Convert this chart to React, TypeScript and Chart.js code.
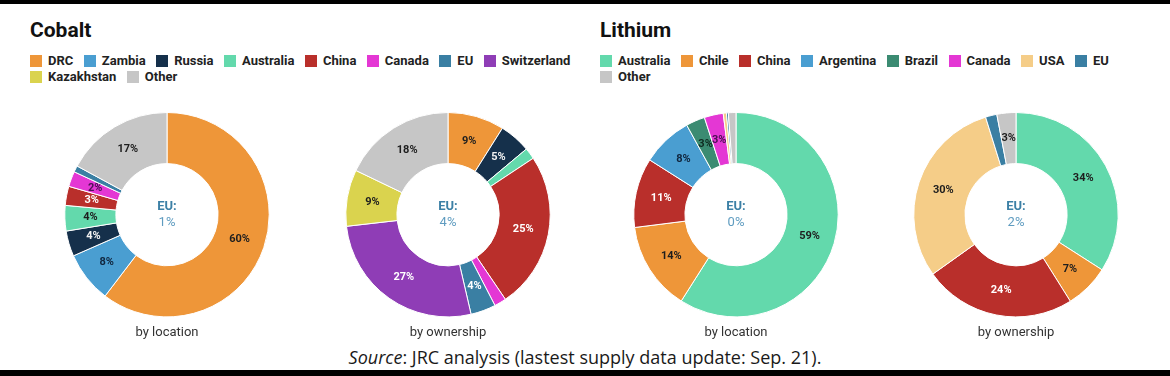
import React, { useEffect, useRef } from 'react';
import { Chart, registerables } from 'chart.js';

Chart.register(...registerables);

// ---------- data ----------
const cobaltCountries = ['DRC', 'Zambia', 'Russia', 'Australia', 'China', 'Canada', 'EU', 'Switzerland', 'Kazakhstan', 'Other'];
const cobaltLocation = [60, 8, 4, 4, 3, 2.4, 1, 0, 0, 17];
const cobaltOwnership = [9, 0, 5, 1.8, 25, 1.9, 4, 27, 9, 18];
const cobaltEUShare = ['1%', '4%'];

const lithiumCountries = ['Australia', 'Chile', 'China', 'Argentina', 'Brazil', 'Canada', 'USA', 'EU', 'Other'];
const lithiumLocation = [59, 14, 11, 8, 3, 3, 0.5, 0.3, 1.2];
const lithiumOwnership = [34, 7, 24, 0, 0, 0, 30, 1.8, 3];
const lithiumEUShare = ['0%', '2%'];

const subtitles = ['by location', 'by ownership'];

// ---------- styles ----------
const palette: Record<string, string> = {
  DRC: '#EE9639',
  Zambia: '#4A9ED1',
  Russia: '#15304B',
  Australia: '#63D9AC',
  China: '#B92F2B',
  Canada: '#E437D4',
  EU: '#3A7FA3',
  Switzerland: '#8F3DB6',
  Kazakhstan: '#DAD34E',
  Other: '#C6C6C6',
  Chile: '#EE9639',
  Argentina: '#4A9ED1',
  Brazil: '#3B8B72',
  USA: '#F5CD88',
};
const labelInk: Record<string, string> = {
  Russia: '#F2F2F2',
  China: '#FFFFFF',
  EU: '#FFFFFF',
  Switzerland: '#FFFFFF',
  Canada: '#4B1054',
  Zambia: '#10253D',
  Argentina: '#10253D',
  Brazil: '#0F2A20',
};
const FONT = 'Roboto, "Noto Sans", sans-serif';

const sliceLabels = {
  id: 'sliceLabels',
  afterDatasetsDraw(chart: any) {
    const ctx = chart.ctx;
    const meta = chart.getDatasetMeta(0);
    const ds = chart.data.datasets[0];
    const labels = chart.data.labels as string[];
    ctx.save();
    ctx.font = `bold 11px ${FONT}`;
    ctx.textAlign = 'center';
    ctx.textBaseline = 'middle';
    meta.data.forEach((arc: any, i: number) => {
      const v = ds.data[i] as number;
      if (v < 2.2) return;
      const p = arc.tooltipPosition(true);
      ctx.fillStyle = labelInk[labels[i]] || '#1E1E1E';
      ctx.fillText(Math.round(v) + '%', p.x, p.y);
    });
    ctx.restore();
  },
};

const centerText = {
  id: 'centerText',
  afterDatasetsDraw(chart: any, _args: any, opts: any) {
    const meta = chart.getDatasetMeta(0);
    const arc = meta.data[0];
    if (!arc) return;
    const { x, y } = arc;
    const ctx = chart.ctx;
    ctx.save();
    ctx.textAlign = 'center';
    ctx.textBaseline = 'middle';
    ctx.font = `bold 13px ${FONT}`;
    ctx.fillStyle = '#3C80A6';
    ctx.fillText('EU:', x, y - 8);
    ctx.font = `13px ${FONT}`;
    ctx.fillStyle = '#5F9CC0';
    ctx.fillText(opts.value, x, y + 8);
    ctx.restore();
  },
};

function Donut({ countries, values, eu, subtitle, cx }: { countries: string[]; values: number[]; eu: string; subtitle: string; cx: number }) {
  const ref = useRef<HTMLCanvasElement | null>(null);
  useEffect(() => {
    if (!ref.current) return;
    const labels: string[] = [];
    const data: number[] = [];
    countries.forEach((c, i) => {
      if (values[i] > 0) {
        labels.push(c);
        data.push(values[i]);
      }
    });
    const chart = new Chart(ref.current, {
      type: 'doughnut',
      data: {
        labels,
        datasets: [
          {
            data,
            backgroundColor: labels.map((l) => palette[l]),
            borderColor: '#FFFFFF',
            borderWidth: 1,
          },
        ],
      },
      options: {
        animation: false,
        responsive: false,
        maintainAspectRatio: false,
        cutout: '50%',
        layout: { padding: { top: 1, bottom: 0, left: 0, right: 0 } },
        plugins: {
          legend: { display: false },
          tooltip: { enabled: false },
          title: {
            display: true,
            position: 'bottom',
            text: subtitle,
            color: '#333333',
            font: { family: FONT, size: 13, weight: 'normal' },
            padding: { top: 8, bottom: 4 },
          },
          centerText: { value: eu },
        } as any,
      },
      plugins: [sliceLabels, centerText],
    });
    return () => chart.destroy();
  }, []);
  return (
    <canvas
      ref={ref}
      width={260}
      height={234}
      style={{ position: 'absolute', left: cx - 130, top: 111, width: 260, height: 234 }}
    />
  );
}

function Legend({ items, left, width }: { items: string[]; left: number; width: number }) {
  return (
    <div
      style={{
        position: 'absolute',
        left,
        top: 53,
        width,
        display: 'flex',
        flexWrap: 'wrap',
        fontFamily: FONT,
        fontWeight: 700,
        fontSize: 13,
        lineHeight: '16px',
        color: '#222',
      }}
    >
      {items.map((it) => (
        <div key={it} style={{ display: 'flex', alignItems: 'center', marginRight: 10.5, height: 16 }}>
          <span style={{ display: 'inline-block', width: 12, height: 12, background: palette[it], marginRight: 6 }} />
          <span>{it}</span>
        </div>
      ))}
    </div>
  );
}

export default function App() {
  useEffect(() => {
    document.body.style.margin = '0';
  }, []);
  const title: React.CSSProperties = {
    position: 'absolute',
    top: 17,
    fontFamily: FONT,
    fontWeight: 700,
    fontSize: 21,
    color: '#111',
    lineHeight: '26px',
  };
  return (
    <div style={{ position: 'relative', width: 1170, height: 376, background: '#fff', overflow: 'hidden' }}>
      <div style={{ position: 'absolute', left: 0, top: 0, width: 1170, height: 4, background: '#000' }} />
      <div style={{ ...title, left: 30 }}>Cobalt</div>
      <div style={{ ...title, left: 600 }}>Lithium</div>
      <Legend items={cobaltCountries} left={30} width={560} />
      <Legend items={lithiumCountries} left={600} width={540} />
      <Donut countries={cobaltCountries} values={cobaltLocation} eu={cobaltEUShare[0]} subtitle={subtitles[0]} cx={167} />
      <Donut countries={cobaltCountries} values={cobaltOwnership} eu={cobaltEUShare[1]} subtitle={subtitles[1]} cx={448} />
      <Donut countries={lithiumCountries} values={lithiumLocation} eu={lithiumEUShare[0]} subtitle={subtitles[0]} cx={736} />
      <Donut countries={lithiumCountries} values={lithiumOwnership} eu={lithiumEUShare[1]} subtitle={subtitles[1]} cx={1016} />
      <div
        style={{
          position: 'absolute',
          left: 0,
          width: 1170,
          top: 345,
          textAlign: 'center',
          fontFamily: '"Open Sans", sans-serif',
          fontSize: 18,
          lineHeight: '24px',
          color: '#1a1a1a',
        }}
      >
        <i>Source</i>: JRC analysis (lastest supply data update: Sep. 21).
      </div>
      <div style={{ position: 'absolute', left: 0, top: 370, width: 1170, height: 6, background: '#000' }} />
    </div>
  );
}
